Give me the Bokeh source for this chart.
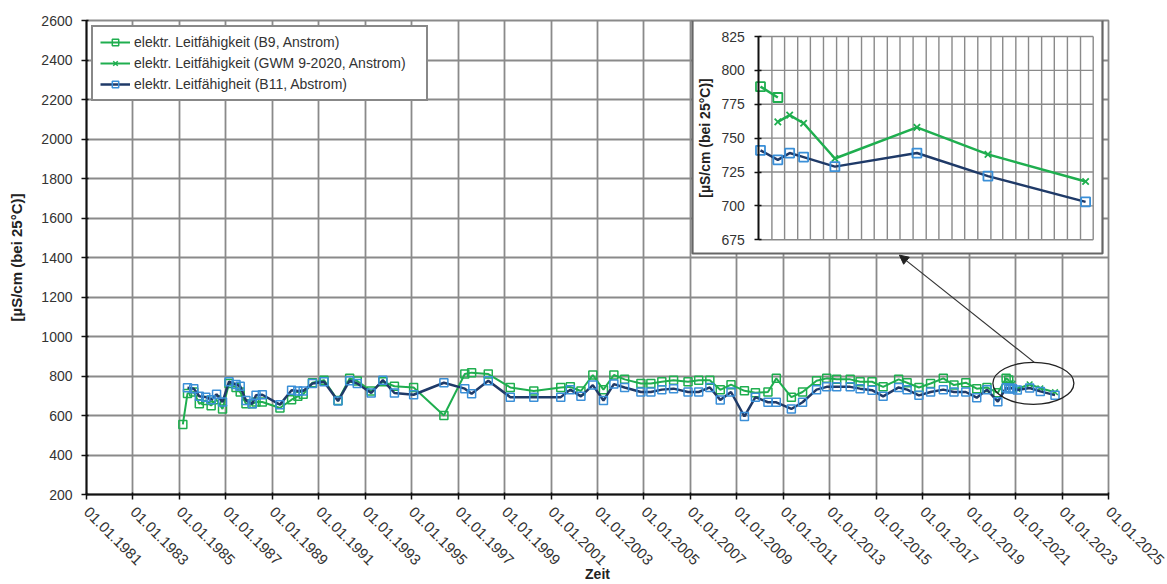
import math
from datetime import datetime, timezone

from bokeh.plotting import figure
from bokeh.models import (Range1d, FixedTicker, DatetimeTickFormatter, LinearAxis,
                          Legend, LegendItem, Arrow, NormalHead)
from bokeh.embed import file_html
from bokeh.resources import INLINE

# ---------------- data ----------------
b9_dates = ["1985-02-24", "1985-05-08", "1985-08-15", "1985-11-10", "1986-02-20", "1986-05-15",
            "1986-08-08", "1986-11-10", "1987-02-20", "1987-06-10", "1987-08-15", "1987-11-14",
            "1988-02-20", "1988-04-20", "1988-07-28", "1989-05-01", "1989-10-31", "1990-02-06",
            "1990-05-01", "1990-09-24", "1991-03-25", "1991-10-31", "1992-05-01", "1992-08-29",
            "1993-04-05", "1993-10-05", "1994-04-05", "1995-02-01", "1996-05-22", "1997-04-16",
            "1997-08-01", "1998-04-20", "1999-04-01", "2000-04-05", "2001-06-03", "2001-10-31",
            "2002-04-16", "2002-10-20", "2003-04-05", "2003-09-16", "2004-03-03", "2004-11-14",
            "2005-04-20", "2005-10-09", "2006-04-12", "2006-11-25", "2007-05-12", "2007-11-03",
            "2008-04-15", "2008-10-01", "2009-04-30", "2009-10-20", "2010-05-05", "2010-09-13",
            "2011-05-08", "2011-10-31", "2012-06-07", "2012-11-14", "2013-04-20", "2013-11-18",
            "2014-04-23", "2014-10-27", "2015-04-20", "2015-12-20", "2016-05-01", "2016-11-03",
            "2017-05-05", "2017-11-21", "2018-05-08", "2018-11-10", "2019-05-01", "2019-10-09",
            "2020-03-28", "2020-08-05", "2020-09-15"]
b9_values = [555, 711, 719, 659, 676, 650,
             680, 633, 762, 742, 719, 659,
             659, 668, 668, 638, 680, 697,
             707, 766, 779, 676, 788, 775,
             724, 771, 748, 742, 600, 810,
             817, 810, 742, 724, 742, 745,
             724, 805, 731, 805, 783, 762,
             762, 771, 779, 771, 779, 779,
             730, 756, 725, 715, 719, 788,
             693, 719, 776, 788, 783, 783,
             771, 771, 745, 783, 766, 742,
             762, 788, 754, 766, 736, 742,
             715, 788, 780]

gwm_dates = ["2020-09-15", "2020-10-13", "2020-11-15", "2021-01-28", "2021-08-10",
             "2022-01-25", "2022-09-13"]
gwm_values = [762, 767, 761, 735, 758, 738, 718]

b11_dates = ["1985-05-08", "1985-08-15", "1985-11-10", "1986-02-20", "1986-05-15",
             "1986-08-08", "1986-11-10", "1987-02-20", "1987-06-10", "1987-08-15", "1987-11-14",
             "1988-02-20", "1988-04-20", "1988-07-28", "1989-05-01", "1989-10-31", "1990-02-06",
             "1990-05-01", "1990-09-24", "1991-03-25", "1991-10-31", "1992-05-01", "1992-08-29",
             "1993-04-05", "1993-10-05", "1994-04-05", "1995-02-01", "1996-05-22", "1997-04-16",
             "1997-08-01", "1998-04-20", "1999-04-01", "2000-04-05", "2001-06-03", "2001-10-31",
             "2002-04-16", "2002-10-20", "2003-04-05", "2003-09-16", "2004-03-03", "2004-11-14",
             "2005-04-20", "2005-10-09", "2006-04-12", "2006-11-25", "2007-05-12", "2007-11-03",
             "2008-04-15", "2008-10-01", "2009-04-30", "2009-10-20", "2010-05-05", "2010-09-13",
             "2011-05-08", "2011-10-31", "2012-06-07", "2012-11-14", "2013-04-20", "2013-11-18",
             "2014-04-23", "2014-10-27", "2015-04-20", "2015-12-20", "2016-05-01", "2016-11-03",
             "2017-05-05", "2017-11-21", "2018-05-08", "2018-11-10", "2019-05-01", "2019-10-09",
             "2020-03-28", "2020-08-05", "2020-09-15", "2020-10-13", "2020-11-15", "2021-01-28",
             "2021-08-10", "2022-01-25", "2022-09-13"]
b11_values = [740, 736, 697, 693, 680,
              707, 668, 771, 757, 748, 676,
              659, 702, 705, 655, 728, 724,
              724, 762, 771, 673, 776, 762,
              714, 779, 714, 705, 766, 736,
              710, 776, 693, 693, 693, 731,
              697, 754, 676, 759, 742, 719,
              719, 731, 736, 719, 719, 742,
              679, 719, 595, 693, 667, 667,
              633, 667, 731, 745, 745, 745,
              736, 728, 697, 742, 731, 702,
              719, 731, 719, 719, 690, 731,
              670, 741, 734, 739, 736, 729,
              739, 722, 703]

labels = ["elektr. Leitfähigkeit (B9, Anstrom)",
          "elektr. Leitfähigkeit (GWM 9-2020, Anstrom)",
          "elektr. Leitfähigheit (B11, Abstrom)"]
y_title = "[µS/cm (bei 25°C)]"
x_title = "Zeit"

x_tick_years = list(range(1981, 2026, 2))
y_ticks = list(range(200, 2601, 200))
inset_y_ticks = [675, 700, 725, 750, 775, 800, 825]
inset_start, inset_end = "2020-08-01", "2022-10-01"
inset_cut = "2020-08-01"

# ---------------- helpers ----------------
EPOCH = datetime(1970, 1, 1, tzinfo=timezone.utc)


def ms(s):
    d = datetime.strptime(s, "%Y-%m-%d").replace(tzinfo=timezone.utc)
    return (d - EPOCH).total_seconds() * 1000.0


FONT = "Liberation Sans"
GREEN = "#1fae4f"
NAVY = "#1f3a68"
LBLUE = "#3a8fd8"
GRID = "#8a8a8a"
TXT = "#333333"

# frame geometry (canvas px)
FL, FT, FW, FH = 86, 20, 1022, 474
# inset plot area (canvas px)
IL, IR, IT, IB = 758.3, 1092.7, 36.0, 239.3
# inset outer box (canvas px)
BL, BR, BB = 692.0, 1102.0, 253.0

x0, x1 = ms("1981-01-01"), ms("2025-01-01")

p = figure(frame_width=FW, frame_height=FH, x_axis_type="datetime",
           x_range=Range1d(x0, x1), y_range=Range1d(200, 2600),
           output_backend="svg", toolbar_location=None,
           min_border_left=FL, min_border_top=FT, min_border_right=59, min_border_bottom=90)
p.background_fill_color = "white"
p.border_fill_color = "white"
p.outline_line_color = GRID
p.outline_line_width = 1.8

# inset ranges mapped onto whole frame
ix0, ix1 = ms(inset_start), ms(inset_end)
sx = (ix1 - ix0) / (IR - IL)
sy = 150.0 / (IB - IT)
p.extra_x_ranges = {"ix": Range1d(ix0 - (IL - FL) * sx, ix1 + (FL + FW - IR) * sx)}
p.extra_y_ranges = {"iy": Range1d(675 - (FT + FH - IB) * sy, 825 + (IT - FT) * sy)}

# main axes
xt = [ms(f"{y}-01-01") for y in x_tick_years]
p.xaxis.ticker = FixedTicker(ticks=xt)
fmt = "%d.%m.%Y"
p.xaxis.formatter = DatetimeTickFormatter(years=fmt, months=fmt, days=fmt, hours=fmt,
                                          minutes=fmt, seconds=fmt, milliseconds=fmt,
                                          microseconds=fmt, minsec=fmt, hourmin=fmt)
p.xaxis.major_label_orientation = -math.pi / 4
p.yaxis.ticker = FixedTicker(ticks=y_ticks)
for ax in (p.xaxis[0], p.yaxis[0]):
    ax.axis_line_color = "#111111"
    ax.axis_line_width = 2
    ax.major_tick_line_color = "#111111"
    ax.major_tick_line_width = 1.5
    ax.major_tick_out = 5
    ax.major_tick_in = 2
    ax.minor_tick_line_color = None
    ax.major_label_text_font = FONT
    ax.major_label_text_font_size = "14px"
    ax.major_label_text_color = TXT
    ax.axis_label_text_font = FONT
    ax.axis_label_text_font_size = "14px"
    ax.axis_label_text_font_style = "bold"
    ax.axis_label_text_color = "#222222"
p.xaxis[0].major_label_text_font_size = "15px"
p.yaxis[0].major_label_standoff = 9
p.yaxis[0].axis_label = y_title
p.yaxis[0].axis_label_text_font_size = "15px"
p.yaxis[0].axis_label_standoff = 13
p.xaxis[0].major_label_standoff = 10
p.xaxis[0].axis_label = x_title
p.xaxis[0].axis_label_standoff = -7

p.xgrid.ticker = FixedTicker(ticks=xt)
p.ygrid.ticker = FixedTicker(ticks=y_ticks)
for g in (p.xgrid[0], p.ygrid[0]):
    g.grid_line_color = GRID
    g.grid_line_width = 1.8

# inset background box (drawn first among glyphs)
p.quad(left=[ix0 + (BL - IL) * sx], right=[ix0 + (BR - IL) * sx],
       top=[825 + (IT - FT) * sy], bottom=[825 - (BB - IT) * sy],
       fill_color="white", line_color="#666666", line_width=2.2,
       x_range_name="ix", y_range_name="iy")

# inset grid
months = []
y_, m_ = 2020, 9
while (y_, m_) <= (2022, 10):
    months.append(ms(f"{y_}-{m_:02d}-01"))
    m_ += 1
    if m_ > 12:
        m_, y_ = 1, y_ + 1
p.segment(x0=months, x1=months, y0=[675] * len(months), y1=[825] * len(months),
          line_color=GRID, line_width=1.4, x_range_name="ix", y_range_name="iy")
p.segment(x0=[ix0] * len(inset_y_ticks), x1=[ix1] * len(inset_y_ticks),
          y0=inset_y_ticks, y1=inset_y_ticks,
          line_color=GRID, line_width=1.4, x_range_name="ix", y_range_name="iy")

# main series
b9x = [ms(d) for d in b9_dates]
gwx = [ms(d) for d in gwm_dates]
b11x = [ms(d) for d in b11_dates]

r1l = p.line(b9x, b9_values, line_color=GREEN, line_width=2)
r1s = p.scatter(b9x, b9_values, marker="square", size=8, line_color=GREEN,
                line_width=1.5, fill_color=None)
r2l = p.line(gwx, gwm_values, line_color=GREEN, line_width=2)
r2s = p.scatter(gwx, gwm_values, marker="x", size=8, line_color=GREEN, line_width=1.5)
r3l = p.line(b11x, b11_values, line_color=NAVY, line_width=2.5)
r3s = p.scatter(b11x, b11_values, marker="square", size=8, line_color=LBLUE,
                line_width=1.5, fill_color=None)

# inset series
cut = ms(inset_cut)
ib9 = [(x, v) for x, v in zip(b9x, b9_values) if x >= cut]
ib11 = [(x, v) for x, v in zip(b11x, b11_values) if x >= cut]
kw = dict(x_range_name="ix", y_range_name="iy")
p.line([a for a, _ in ib9], [b for _, b in ib9], line_color=GREEN, line_width=2.5, **kw)
p.scatter([a for a, _ in ib9], [b for _, b in ib9], marker="square", size=9,
          line_color=GREEN, line_width=1.8, fill_color=None, **kw)
p.line(gwx, gwm_values, line_color=GREEN, line_width=2.5, **kw)
p.scatter(gwx, gwm_values, marker="x", size=9, line_color=GREEN, line_width=1.8, **kw)
p.line([a for a, _ in ib11], [b for _, b in ib11], line_color=NAVY, line_width=2.5, **kw)
p.scatter([a for a, _ in ib11], [b for _, b in ib11], marker="square", size=9,
          line_color=LBLUE, line_width=1.8, fill_color=None, **kw)

# ellipse around the zoomed region + arrow to the inset
p.ellipse(x=[ms("2021-10-08")], y=[763], width=[81], height=[42],
          width_units="screen", height_units="screen",
          fill_color=None, line_color="#222222", line_width=1.3)
p.add_layout(Arrow(x_start=ms("2021-10-22"), y_start=869, x_end=ms("2016-01-01"), y_end=1412,
                   line_color="#333333", line_width=1.2,
                   end=NormalHead(size=9, fill_color="#222222", line_color="#222222")))

# legend
legend = Legend(items=[LegendItem(label=labels[0], renderers=[r1l, r1s]),
                       LegendItem(label=labels[1], renderers=[r2l, r2s]),
                       LegendItem(label=labels[2], renderers=[r3l, r3s])],
                location="top_left", margin=5, padding=7, spacing=5,
                label_height=16, glyph_height=16, glyph_width=30, label_standoff=4,
                label_width=285,
                label_text_font=FONT, label_text_font_size="14px", label_text_color=TXT,
                border_line_color="#111111", border_line_width=2,
                background_fill_color="white", background_fill_alpha=1.0)
p.add_layout(legend)

# inset y axis
iax = LinearAxis(x_range_name="ix", y_range_name="iy", fixed_location=ix0,
                 bounds=(675, 825), ticker=FixedTicker(ticks=inset_y_ticks),
                 axis_label=y_title)
iax.axis_line_color = "#111111"
iax.axis_line_width = 2
iax.major_tick_line_color = "#111111"
iax.major_tick_line_width = 1.5
iax.major_tick_out = 4
iax.major_tick_in = 3
iax.minor_tick_line_color = None
iax.major_label_standoff = 10
iax.major_label_text_font = FONT
iax.major_label_text_font_size = "14px"
iax.major_label_text_color = TXT
iax.axis_label_text_font = FONT
iax.axis_label_text_font_size = "14px"
iax.axis_label_text_font_style = "bold"
iax.axis_label_text_color = "#222222"
iax.axis_label_standoff = 5
p.add_layout(iax, "left")

open("out.html", "w").write(file_html(p, INLINE))
